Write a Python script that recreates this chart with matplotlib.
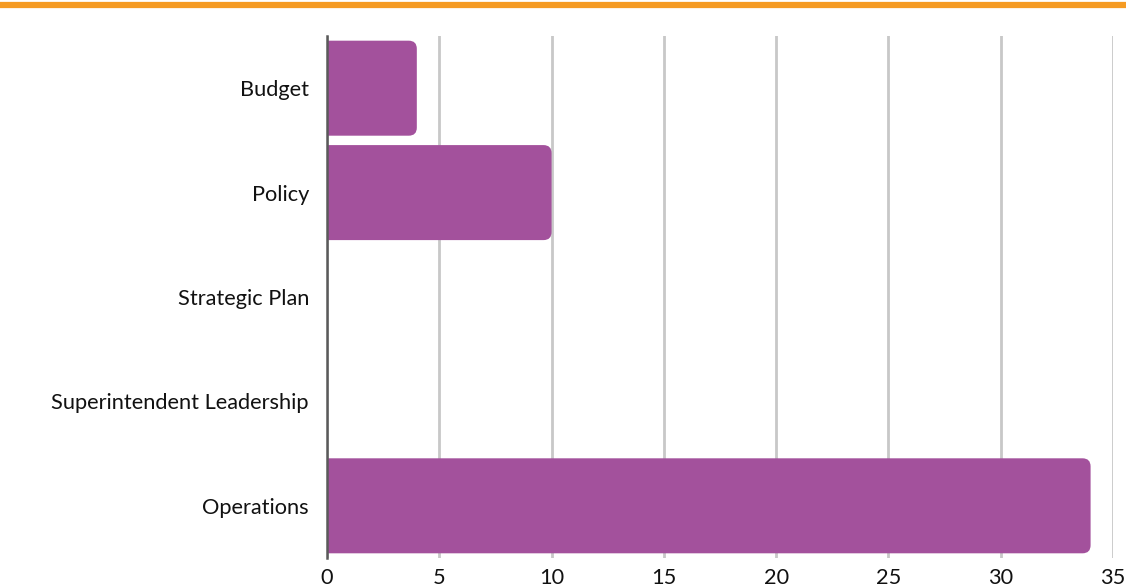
import numpy as np
import matplotlib.pyplot as plt
from matplotlib.patches import FancyBboxPatch
from matplotlib.lines import Line2D

categories = ['Budget', 'Policy', 'Strategic Plan', 'Superintendent Leadership', 'Operations']
values = [4, 10, 0, 0, 34]
x_ticks = [0, 5, 10, 15, 20, 25, 30, 35]

bar_color = '#A3519C'
grid_color = '#C8C8C8'

plt.rcParams['font.family'] = ['Lato', 'DejaVu Sans']

fig = plt.figure(figsize=(11.26, 5.88), dpi=100)
ax = fig.add_axes([0.2904, 0.051, 0.9885 - 0.2904, 0.9388 - 0.051])

y = np.arange(len(categories))
bar_h = 0.91
ax.set_xlim(0, 35)
ax.set_ylim(len(categories) - 0.5, -0.5)

# rounded right corners; the left rounded corners sit left of x=0 and get clipped
r = 0.36
aspect = (5 / 522) / (35 / 787)
for yi, v in zip(y, values):
    if v <= 0:
        continue
    bar = FancyBboxPatch((-2 * r, yi - bar_h / 2), v + 2 * r, bar_h,
                         boxstyle=f'round,pad=0,rounding_size={r}',
                         mutation_aspect=aspect, fc=bar_color, ec='none', zorder=3)
    ax.add_patch(bar)
    bar.set_clip_path(ax.patch)

ax.set_xticks(x_ticks)
ax.set_yticks(y)
ax.set_yticklabels(categories)
ax.xaxis.grid(True, color=grid_color, linewidth=2)
ax.set_axisbelow(True)
ax.tick_params(length=0, labelsize=15.7, colors='#111111')
ax.tick_params(axis='x', pad=7)
ax.tick_params(axis='y', pad=13)

for s in ['top', 'right', 'bottom']:
    ax.spines[s].set_visible(False)
ax.spines['left'].set_color('#5a5a5a')
ax.spines['left'].set_linewidth(1.8)
ax.spines['left'].set_zorder(4)

# orange rule across the top
fig.add_artist(Line2D([3 / 1126, 1], [1 - 5 / 588] * 2, color='#F59B23', linewidth=4.5,
                      transform=fig.transFigure))

fig.savefig('out.png', dpi=100)
